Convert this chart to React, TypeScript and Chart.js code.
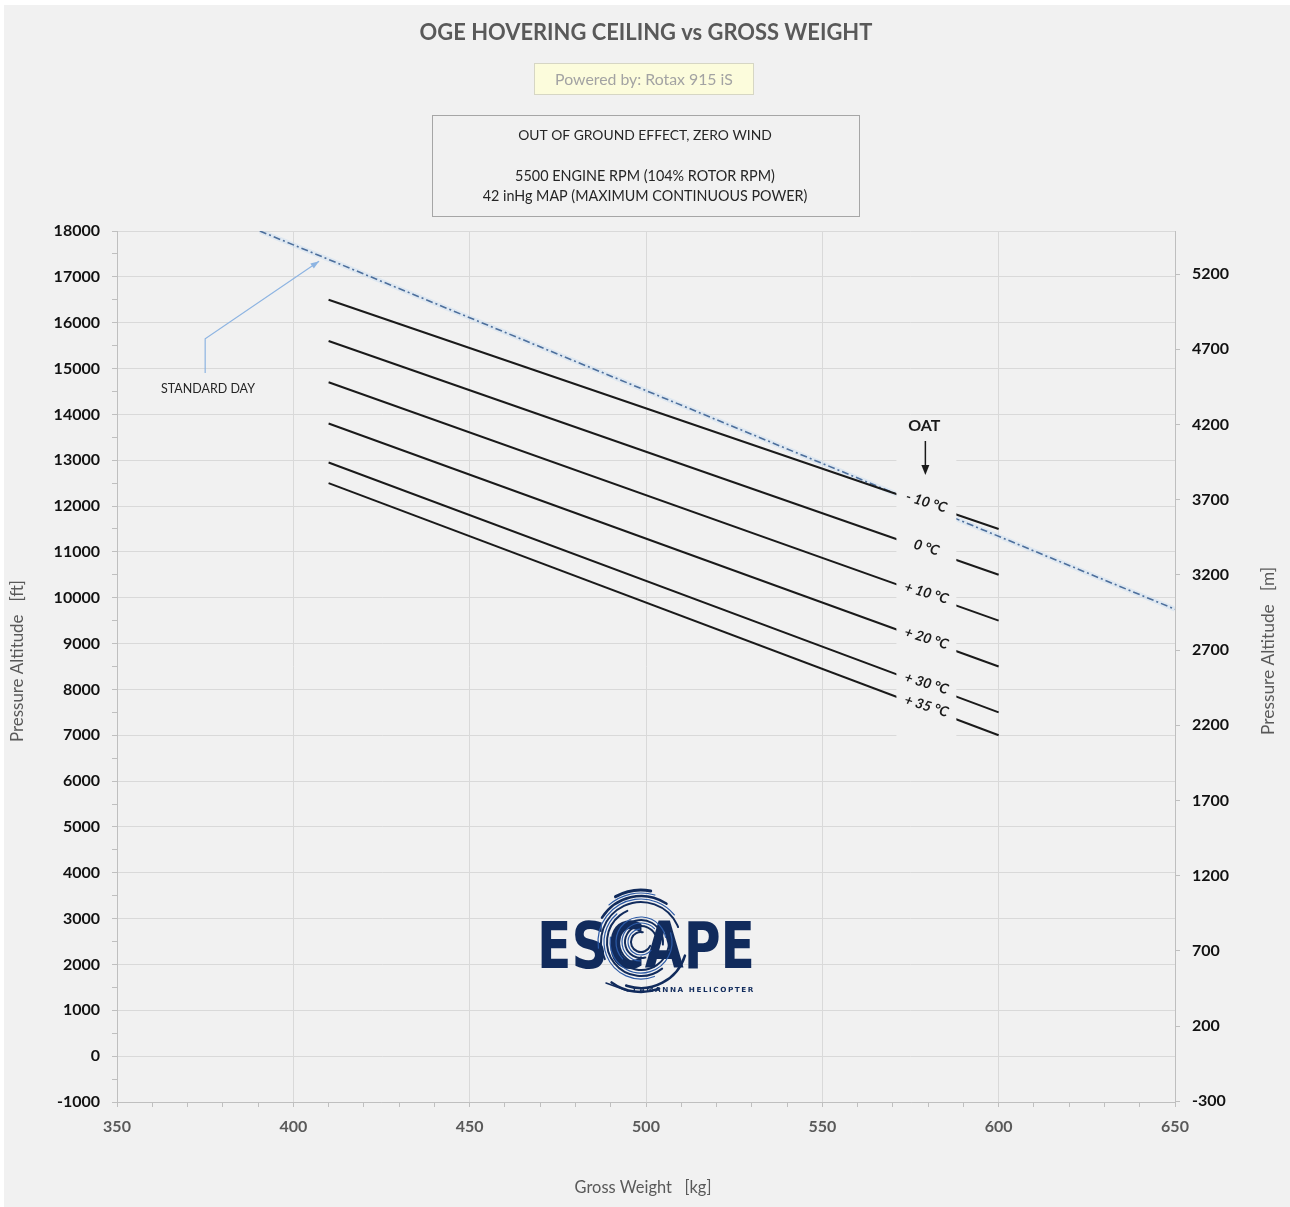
import React, { useEffect, useRef } from 'react';
import { Chart, registerables } from 'chart.js';
Chart.register(...registerables);

// ---------- data ----------
const WEIGHT_START = 410;
const WEIGHT_END = 600;
const OAT_LABELS = ['- 10 °C', '0 °C', '+ 10 °C', '+ 20 °C', '+ 30 °C', '+ 35 °C'];
const ALT_AT_START = [16500, 15600, 14700, 13800, 12950, 12500];
const ALT_AT_END = [11500, 10500, 9500, 8500, 7500, 7000];
const STD_WEIGHT = [390.5, 650];
const STD_ALT = [18000, 9750];
const M_TICKS = [-300, 200, 700, 1200, 1700, 2200, 2700, 3200, 3700, 4200, 4700, 5200];
const LABEL_WEIGHT = 579.5;
const GAP_WEIGHT = [571, 588];
const GAP_ALT = [13400, 6800];
const STD_NOTE_PATH = [
  [375, 14900],
  [375, 15650],
  [407.3, 17340],
];
const STD_NOTE_TEXT = 'STANDARD DAY';
const STD_NOTE_POS = [375.8, 14560];

const FAMILY = 'Lato, "Open Sans", sans-serif';

function fitText(ctx: CanvasRenderingContext2D, text: string, cx: number, cy: number, width: number, weight: string, color: string, style = 'normal') {
  ctx.font = `${style} ${weight} 20px ${FAMILY}`;
  const w = ctx.measureText(text).width;
  const size = (20 * width) / w;
  ctx.font = `${style} ${weight} ${size}px ${FAMILY}`;
  ctx.fillStyle = color;
  ctx.textAlign = 'center';
  ctx.textBaseline = 'middle';
  ctx.fillText(text, cx, cy);
}

function drawLogo(ctx: CanvasRenderingContext2D) {
  const navy = '#112b5c';
  ctx.save();
  const cx = 641, cy = 942;
  ctx.lineCap = 'round';
  const arcs: [number, number, number, number][] = [
    [10, 0.4, 4.9, 2],
    [16, 1.3, 5.8, 2],
    [22, 2.1, 6.4, 2],
    [28, -0.6, 3.6, 2],
    [34, 0.9, 4.3, 2],
    [40, 2.7, 5.9, 2],
    [46, 3.7, 5.3, 2.5],
    [46, 0.3, 1.9, 2.5],
    [52, 4.2, 4.9, 3],
    [50, 1.2, 2.2, 2.5],
  ];
  ctx.strokeStyle = navy;
  for (const [r, a0, a1, lw] of arcs) {
    ctx.lineWidth = lw;
    ctx.beginPath();
    ctx.arc(cx, cy, r, a0, a1);
    ctx.stroke();
  }
  // ESCAPE wordmark
  ctx.font = `900 64px "DejaVu Sans", sans-serif`;
  const w = ctx.measureText('ESCAPE').width;
  ctx.translate(537, 968);
  ctx.scale(218 / w, 1);
  ctx.fillStyle = navy;
  ctx.textAlign = 'left';
  ctx.textBaseline = 'alphabetic';
  ctx.fillText('ESCAPE', 0, 0);
  ctx.setTransform(1, 0, 0, 1, 0, 0);
  // lighter swirl over letters
  ctx.strokeStyle = '#2c5aa6';
  ctx.lineWidth = 1.2;
  for (const [r, a0, a1] of arcs.slice(0, 7)) {
    ctx.beginPath();
    ctx.arc(cx, cy, r + 3, a0 + 0.3, a1 - 0.3);
    ctx.stroke();
  }
  // tagline
  ctx.fillStyle = navy;
  ctx.font = `bold 7px "DejaVu Sans", sans-serif`;
  (ctx as any).letterSpacing = '1.5px';
  const tw = ctx.measureText('LAMANNA HELICOPTER').width;
  ctx.save();
  ctx.translate(633, 990);
  ctx.scale(122 / tw, 1);
  ctx.textAlign = 'left';
  ctx.textBaseline = 'middle';
  ctx.fillText('LAMANNA HELICOPTER', 0, 0);
  ctx.restore();
  (ctx as any).letterSpacing = '0px';
  ctx.strokeStyle = navy;
  ctx.lineWidth = 1.5;
  ctx.beginPath();
  ctx.moveTo(606, 983);
  ctx.lineTo(628, 991);
  ctx.stroke();
  ctx.restore();
}

const decorPlugin = {
  id: 'decor',
  beforeDraw(chart: any) {
    const ctx = chart.ctx as CanvasRenderingContext2D;
    ctx.save();
    ctx.fillStyle = '#ffffff';
    ctx.fillRect(0, 0, chart.width, chart.height);
    ctx.fillStyle = '#f1f1f1';
    ctx.fillRect(4, 5, chart.width - 4, chart.height - 5);
    ctx.restore();
  },
  afterDatasetsDraw(chart: any) {
    const ctx = chart.ctx as CanvasRenderingContext2D;
    const xs = chart.scales.x;
    const ys = chart.scales.y;
    ctx.save();
    // label mask
    const mx0 = xs.getPixelForValue(GAP_WEIGHT[0]);
    const mx1 = xs.getPixelForValue(GAP_WEIGHT[1]);
    const my0 = ys.getPixelForValue(GAP_ALT[0]);
    const my1 = ys.getPixelForValue(GAP_ALT[1]);
    ctx.fillStyle = '#f1f1f1';
    ctx.fillRect(mx0, my0, mx1 - mx0, my1 - my0);

    // OAT labels
    OAT_LABELS.forEach((lab, i) => {
      const a = ALT_AT_START[i] + ((ALT_AT_END[i] - ALT_AT_START[i]) * (LABEL_WEIGHT - WEIGHT_START)) / (WEIGHT_END - WEIGHT_START);
      const px = xs.getPixelForValue(LABEL_WEIGHT);
      const py = ys.getPixelForValue(a) - 2;
      ctx.save();
      ctx.translate(px, py);
      ctx.rotate((17 * Math.PI) / 180);
      ctx.font = `italic bold 14px ${FAMILY}`;
      ctx.fillStyle = '#1a1a1a';
      ctx.textAlign = 'center';
      ctx.textBaseline = 'middle';
      ctx.fillText(lab, 0, 0);
      ctx.restore();
    });

    // OAT header + arrow
    const ox = xs.getPixelForValue(LABEL_WEIGHT);
    ctx.font = `bold 16px ${FAMILY}`;
    ctx.fillStyle = '#1a1a1a';
    ctx.textAlign = 'center';
    ctx.textBaseline = 'middle';
    ctx.fillText('OAT', ox - 2, 426);
    ctx.strokeStyle = '#1a1a1a';
    ctx.lineWidth = 1.5;
    ctx.beginPath();
    ctx.moveTo(ox - 1, 441);
    ctx.lineTo(ox - 1, 467);
    ctx.stroke();
    ctx.beginPath();
    ctx.moveTo(ox - 5, 465);
    ctx.lineTo(ox + 3, 465);
    ctx.lineTo(ox - 1, 475);
    ctx.closePath();
    ctx.fill();

    // Standard day note
    ctx.strokeStyle = '#8db4e2';
    ctx.fillStyle = '#8db4e2';
    ctx.lineWidth = 1.2;
    const pts = STD_NOTE_PATH.map(([w, a]) => [xs.getPixelForValue(w), ys.getPixelForValue(a)]);
    ctx.beginPath();
    pts.forEach(([x, y], i) => (i ? ctx.lineTo(x, y) : ctx.moveTo(x, y)));
    ctx.stroke();
    const [x1, y1] = pts[pts.length - 2];
    const [x2, y2] = pts[pts.length - 1];
    const ang = Math.atan2(y2 - y1, x2 - x1);
    ctx.beginPath();
    ctx.moveTo(x2, y2);
    ctx.lineTo(x2 - 9 * Math.cos(ang - 0.35), y2 - 9 * Math.sin(ang - 0.35));
    ctx.lineTo(x2 - 9 * Math.cos(ang + 0.35), y2 - 9 * Math.sin(ang + 0.35));
    ctx.closePath();
    ctx.fill();
    const tx = xs.getPixelForValue(STD_NOTE_POS[0]);
    const ty = ys.getPixelForValue(STD_NOTE_POS[1]);
    fitText(ctx, STD_NOTE_TEXT, tx, ty, 94, 'normal', '#262626');

    drawLogo(ctx);
    ctx.restore();
  },
  afterDraw(chart: any) {
    const ctx = chart.ctx as CanvasRenderingContext2D;
    ctx.save();
    // Title
    fitText(ctx, 'OGE HOVERING CEILING vs GROSS WEIGHT', 646, 33, 453, 'bold', '#595959');
    // Powered box
    ctx.fillStyle = '#fcfcdc';
    ctx.fillRect(534, 63, 219, 31);
    ctx.strokeStyle = '#d6d6c4';
    ctx.lineWidth = 1;
    ctx.strokeRect(534.5, 63.5, 219, 31);
    fitText(ctx, 'Powered by: Rotax 915 iS', 644, 80, 178, 'normal', '#a3a3a3');
    // Info box
    ctx.strokeStyle = '#a6a6a6';
    ctx.strokeRect(432.5, 115.5, 427, 101);
    fitText(ctx, 'OUT OF GROUND EFFECT, ZERO WIND', 645, 136, 254, 'normal', '#262626');
    fitText(ctx, '5500 ENGINE RPM (104% ROTOR RPM)', 645, 176, 260, 'normal', '#262626');
    fitText(ctx, '42 inHg MAP (MAXIMUM CONTINUOUS POWER)', 645, 196, 325, 'normal', '#262626');
    // Axis titles
    fitText(ctx, 'Gross Weight   [kg]', 643, 1188, 137, 'normal', '#595959');
    ctx.save();
    ctx.translate(18, 661);
    ctx.rotate(-Math.PI / 2);
    fitText(ctx, 'Pressure Altitude   [ft]', 0, 0, 162, 'normal', '#595959');
    ctx.restore();
    ctx.save();
    ctx.translate(1268, 651);
    ctx.rotate(-Math.PI / 2);
    fitText(ctx, 'Pressure Altitude   [m]', 0, 0, 168, 'normal', '#595959');
    ctx.restore();
    ctx.restore();
  },
};

export default function App() {
  const ref = useRef<HTMLCanvasElement | null>(null);
  useEffect(() => {
    if (!ref.current) return;
    const lineSets = OAT_LABELS.map((lab, i) => ({
      label: lab,
      data: [
        { x: WEIGHT_START, y: ALT_AT_START[i] },
        { x: WEIGHT_END, y: ALT_AT_END[i] },
      ],
      showLine: true,
      borderColor: '#1a1a1a',
      borderWidth: 2,
      pointRadius: 0,
      fill: false,
    }));
    const stdData = STD_WEIGHT.map((w, i) => ({ x: w, y: STD_ALT[i] }));
    const gridColor = (step: number) => (c: any) =>
      c.tick && Math.round(c.tick.value) % step === 0 ? '#d9d9d9' : 'rgba(0,0,0,0)';
    const chart = new Chart(ref.current, {
      type: 'scatter',
      data: {
        datasets: [
          ...lineSets,
          {
            label: 'Standard day',
            data: stdData,
            showLine: true,
            borderColor: '#4d6f9c',
            borderWidth: 1.6,
            borderDash: [7, 3, 2, 3],
            pointRadius: 0,
            fill: false,
          },
          {
            label: 'Standard day halo',
            data: stdData,
            showLine: true,
            borderColor: 'rgba(190,214,240,0.35)',
            borderWidth: 5,
            pointRadius: 0,
            fill: false,
          },
        ] as any,
      },
      options: {
        animation: false,
        responsive: false,
        layout: { padding: { top: 231, left: 0, right: 0, bottom: 0 } },
        plugins: { legend: { display: false }, tooltip: { enabled: false } },
        scales: {
          x: {
            type: 'linear',
            min: 350,
            max: 650,
            ticks: {
              stepSize: 10,
              autoSkip: false,
              maxRotation: 0,
              callback: (v: any) => (Math.round(v) % 50 === 0 ? String(v) : ''),
              color: '#595959',
              font: { family: FAMILY, size: 16, weight: 'bold' },
              padding: 10,
            },
            grid: { color: gridColor(50), tickColor: '#bfbfbf', tickLength: 5 },
            border: { color: '#bfbfbf' },
            afterFit: (s: any) => {
              s.height = 105;
            },
          },
          y: {
            type: 'linear',
            position: 'left',
            min: -1000,
            max: 18000,
            ticks: {
              stepSize: 500,
              autoSkip: false,
              callback: (v: any) => (Math.round(v) % 1000 === 0 ? String(v) : ''),
              color: '#111111',
              font: { family: FAMILY, size: 16, weight: 'bold' },
              padding: 12,
            },
            grid: { color: gridColor(1000), tickColor: '#bfbfbf', tickLength: 5 },
            border: { color: '#bfbfbf' },
            afterFit: (s: any) => {
              s.width = 117;
            },
          },
          y2: {
            type: 'linear',
            position: 'right',
            min: -304.8,
            max: 5486.4,
            afterBuildTicks: (s: any) => {
              s.ticks = M_TICKS.map((v) => ({ value: v }));
            },
            ticks: {
              autoSkip: false,
              callback: (v: any) => String(v),
              color: '#111111',
              font: { family: FAMILY, size: 16, weight: 'bold' },
              padding: 12,
            },
            grid: { drawOnChartArea: false, tickColor: '#bfbfbf', tickLength: 5 },
            border: { color: '#bfbfbf' },
            afterFit: (s: any) => {
              s.width = 115;
            },
          },
        },
      } as any,
      plugins: [decorPlugin],
    });
    return () => chart.destroy();
  }, []);
  return (
    <div style={{ position: 'absolute', left: 0, top: 0, width: 1290, height: 1207 }}>
      <canvas ref={ref} width={1290} height={1207} style={{ width: 1290, height: 1207, display: 'block' }} />
    </div>
  );
}
